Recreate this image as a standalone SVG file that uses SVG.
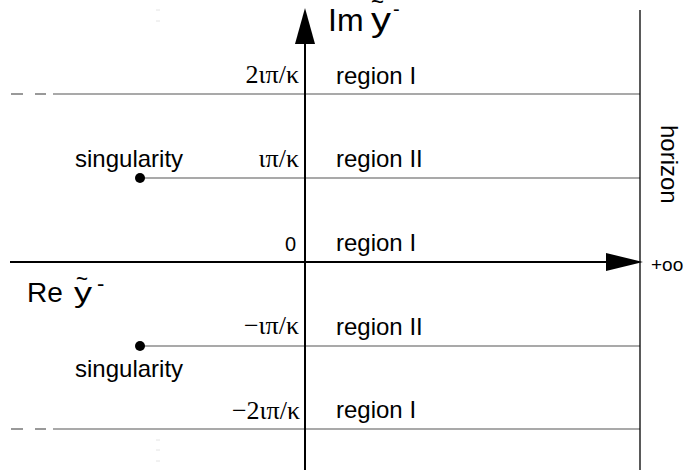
<svg xmlns="http://www.w3.org/2000/svg" width="685" height="473" viewBox="0 0 685 473">
<style>
.sans{font-family:"Liberation Sans",Arial,sans-serif;fill:#000}
.serif{font-family:"Liberation Serif","Times New Roman",serif;fill:#000;font-size:26px;text-anchor:end}
.lbl{font-size:24px}
.grid{stroke:#555;stroke-width:1.2;fill:none}
.axis{stroke:#000;stroke-width:2;fill:none}
.faint{stroke:#e4e4e4;stroke-width:1;fill:none}
</style>
<rect width="685" height="473" fill="#fff"/>
<g id="connectors">
<line class="grid" x1="53" y1="94" x2="640" y2="94"/>
<line class="grid" x1="11" y1="94" x2="23" y2="94"/>
<line class="grid" x1="35" y1="94" x2="46" y2="94"/>
<line class="grid" x1="140" y1="178" x2="640" y2="178"/>
<line class="grid" x1="140" y1="346" x2="640" y2="346"/>
<line class="grid" x1="53" y1="429" x2="640" y2="429"/>
<line class="grid" x1="11" y1="429" x2="23" y2="429"/>
<line class="grid" x1="35" y1="429" x2="46" y2="429"/>
<line class="faint" x1="156" y1="10" x2="160" y2="10"/>
<line class="faint" x1="156" y1="21" x2="160" y2="21"/>
<line class="faint" x1="156" y1="440" x2="160" y2="440"/>
<line class="faint" x1="156" y1="450" x2="160" y2="450"/>
<line class="faint" x1="156" y1="461" x2="160" y2="461"/>
<line class="axis" x1="305" y1="470" x2="305" y2="38"/>
<polygon points="305,8 295,44 315,44" fill="#000"/>
<line class="axis" x1="10" y1="262" x2="612" y2="262"/>
<polygon points="643,262 606,253 606,271" fill="#000"/>
<line stroke="#000" stroke-width="1.3" x1="640" y1="10" x2="640" y2="470"/>
</g>
<g id="axis-labels">
<text class="sans" x="328" y="31" font-size="32">Im</text>
<text class="sans" x="371" y="31" font-size="33" textLength="20" lengthAdjust="spacingAndGlyphs">y</text>
<text class="sans" x="371" y="10" font-size="24" textLength="13" lengthAdjust="spacingAndGlyphs">~</text>
<text class="sans" x="393" y="16" font-size="20">-</text>
<text class="sans" x="27" y="302" font-size="28">Re</text>
<text class="sans" x="74" y="302" font-size="28" textLength="18" lengthAdjust="spacingAndGlyphs">y</text>
<text class="sans" x="76" y="287" font-size="24" textLength="12" lengthAdjust="spacingAndGlyphs">~</text>
<text class="sans" x="97" y="291" font-size="22">-</text>
<text class="sans" x="651" y="271" font-size="19">+oo</text>
<text class="sans lbl" transform="translate(661,125) rotate(90)">horizon</text>
</g>
<g id="ticks">
<text class="serif" x="299" y="83">2ιπ/κ</text>
<text class="serif" x="299" y="167">ιπ/κ</text>
<text class="sans" x="296" y="251" font-size="20" text-anchor="end">0</text>
<text class="serif" x="299" y="334">−ιπ/κ</text>
<text class="serif" x="300" y="419">−2ιπ/κ</text>
</g>
<g id="regions">
<text class="sans lbl" x="336" y="84">region I</text>
<text class="sans lbl" x="336" y="167">region II</text>
<text class="sans lbl" x="336" y="251">region I</text>
<text class="sans lbl" x="336" y="335">region II</text>
<text class="sans lbl" x="336" y="418">region I</text>
</g>
<g id="singularity-upper">
<circle cx="140" cy="178" r="5" fill="#000"/>
<text class="sans lbl" x="75" y="167">singularity</text>
</g>
<g id="singularity-lower">
<circle cx="140" cy="346" r="5" fill="#000"/>
<text class="sans lbl" x="75" y="377">singularity</text>
</g>
</svg>
